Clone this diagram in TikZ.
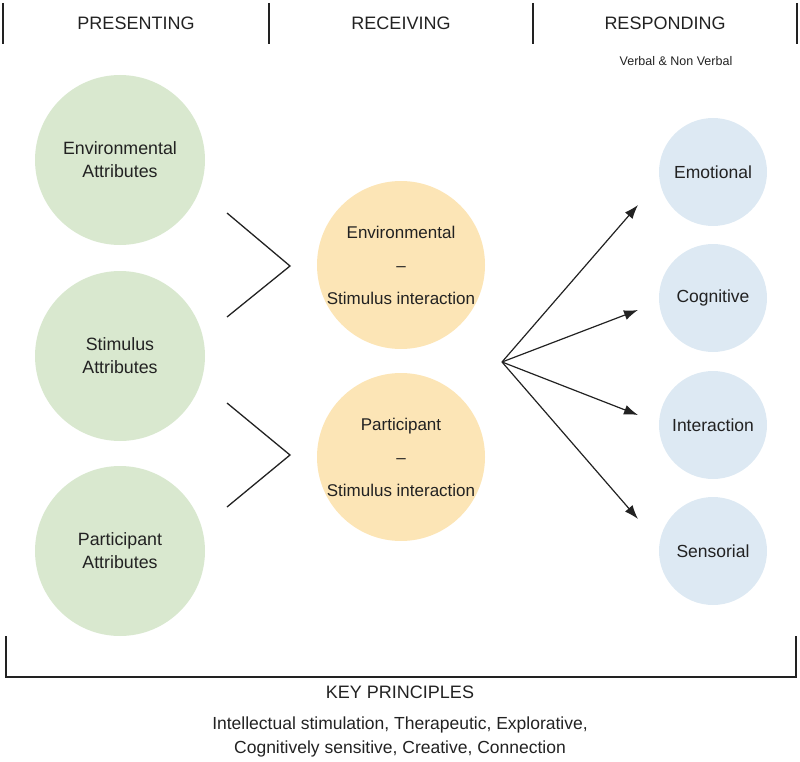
\documentclass[tikz,border=0pt]{standalone}
\usepackage{fontspec}
\setmainfont{Liberation Sans}
\usetikzlibrary{arrows.meta}
\definecolor{gfill}{RGB}{217,232,207}
\definecolor{ofill}{RGB}{252,229,182}
\definecolor{bfill}{RGB}{221,233,243}
\definecolor{ink}{RGB}{34,34,34}
\begin{document}
\begin{tikzpicture}[x=1pt,y=-1pt,
  txt/.style={text=ink,inner sep=0pt},
  head/.style={txt,font=\fontsize{18}{21}\selectfont},
  gcirc/.style={circle,fill=gfill,minimum size=170pt,inner sep=0pt,align=center,text=ink,font=\fontsize{17.8}{23}\selectfont},
  ocirc/.style={circle,fill=ofill,minimum size=168pt,inner sep=0pt,align=center,text=ink,font=\fontsize{17}{33}\selectfont},
  bcirc/.style={circle,fill=bfill,minimum size=108pt,inner sep=0pt,align=center,text=ink,font=\fontsize{17.5}{21}\selectfont},
  rule/.style={draw=ink,line width=1.2pt},
  arr/.style={draw=ink,line width=1.2pt,-{Latex[length=14pt,width=10pt]}}]
\useasboundingbox (0,0) rectangle (800,762);
% header
\coordinate (h1t) at (3,3);   \coordinate (h1b) at (3,44);
\coordinate (h2t) at (269,3); \coordinate (h2b) at (269,44);
\coordinate (h3t) at (533,3); \coordinate (h3b) at (533,44);
\coordinate (h4t) at (797,3); \coordinate (h4b) at (797,44);
\draw[rule] (h1t) -- (h1b); \draw[rule] (h2t) -- (h2b);
\draw[rule] (h3t) -- (h3b); \draw[rule] (h4t) -- (h4b);
\node[head] (pres) at (136,23) {PRESENTING};
\node[head] (recv) at (401,23) {RECEIVING};
\node[head] (resp) at (665,23) {RESPONDING};
\node[txt,font=\fontsize{12.5}{15}\selectfont] (verb) at (676,61) {Verbal \& Non Verbal};
% green circles
\node[gcirc] (env) at (120,160) {Environmental\\Attributes};
\node[gcirc] (stim) at (120,356) {Stimulus\\Attributes};
\node[gcirc] (part) at (120,551) {Participant\\Attributes};
% orange circles
\node[ocirc] (es) at (401,265) {Environmental\\–\\Stimulus interaction};
\node[ocirc] (ps) at (401,457) {Participant\\–\\Stimulus interaction};
% blue circles
\node[bcirc] (emo) at (713,172) {Emotional};
\node[bcirc] (cog) at (713,298) {Cognitive};
\node[bcirc] (int) at (713,425) {Interaction};
\node[bcirc] (sen) at (713,551) {Sensorial};
% chevrons
\coordinate (c1a) at (227,213); \coordinate (c1p) at (290,266); \coordinate (c1b) at (227,317);
\coordinate (c2a) at (227,403); \coordinate (c2p) at (290,455); \coordinate (c2b) at (227,507);
\draw[rule,line width=1.3pt] (c1a) -- (c1p) -- (c1b);
\draw[rule,line width=1.3pt] (c2a) -- (c2p) -- (c2b);
% arrows
\coordinate (hub) at (502,362);
\coordinate (t1) at (638,205);
\coordinate (t2) at (638,310);
\coordinate (t3) at (638,415);
\coordinate (t4) at (638,519);
\draw[arr] (hub) -- (t1);
\draw[arr] (hub) -- (t2);
\draw[arr] (hub) -- (t3);
\draw[arr] (hub) -- (t4);
% bottom bracket
\coordinate (bl) at (6,636); \coordinate (blc) at (6,677);
\coordinate (br) at (796,636); \coordinate (brc) at (796,677);
\draw[rule] (bl) -- (blc) -- (brc) -- (br);
\node[head] (key) at (400,692) {KEY PRINCIPLES};
\node[txt,align=center,font=\fontsize{17.5}{23.5}\selectfont] (prin) at (400,737) {Intellectual stimulation, Therapeutic, Explorative,\\Cognitively sensitive, Creative, Connection};
\end{tikzpicture}
\end{document}
